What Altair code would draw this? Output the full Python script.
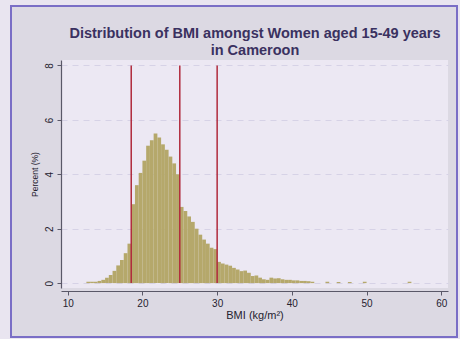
import altair as alt
import pandas as pd

# ---- data ----
BIN_WIDTH = 0.5
bin_start = [12.5, 13.0, 13.5, 14.0, 14.5, 15.0, 15.5, 16.0, 16.5, 17.0, 17.5, 18.0,
             18.5, 19.0, 19.5, 20.0, 20.5, 21.0, 21.5, 22.0, 22.5, 23.0, 23.5, 24.0, 24.5,
             25.0, 25.5, 26.0, 26.5, 27.0, 27.5, 28.0, 28.5, 29.0, 29.5,
             30.0, 30.5, 31.0, 31.5, 32.0, 32.5, 33.0, 33.5, 34.0, 34.5, 35.0, 35.5,
             36.0, 36.5, 37.0, 37.5, 38.0, 38.5, 39.0, 39.5, 40.0, 40.5, 41.0, 41.5,
             42.0, 42.5, 44.5, 46.0, 47.5, 49.5, 55.5]
percent = [0.05, 0.05, 0.05, 0.08, 0.12, 0.2, 0.3, 0.45, 0.65, 0.85, 1.1, 1.45,
           2.9, 3.6, 4.05, 4.5, 5.05, 5.25, 5.5, 5.35, 5.1, 4.9, 4.65, 4.4, 4.0,
           2.8, 2.65, 2.45, 2.25, 2.0, 1.78, 1.6, 1.45, 1.3, 1.25,
           0.78, 0.72, 0.68, 0.64, 0.56, 0.5, 0.44, 0.46, 0.38, 0.26, 0.28, 0.2,
           0.14, 0.12, 0.2, 0.17, 0.18, 0.14, 0.12, 0.12, 0.1, 0.1, 0.08, 0.08,
           0.07, 0.05, 0.05, 0.04, 0.04, 0.05, 0.05]
cutoffs = [18.5, 25, 30]
x_ticks = [10, 20, 30, 40, 50, 60]
y_ticks = [0, 2, 4, 6, 8]
title_lines = ["Distribution of BMI amongst Women aged 15-49 years", "in Cameroon"]

# ---- styles ----
FONT = "Liberation Sans"
OUTER = "#e9e5f0"
PANEL = "#dcd9e3"
PLOTBG = "#ece8f3"
BORDER = "#7a6ec6"
BAR = "#b5a86b"
RED = "#b02a3c"
TEXT = "#25222f"

W, H = 387, 228

hist = pd.DataFrame({"start": bin_start, "pct": percent})
hist["end"] = hist["start"] + BIN_WIDTH
cuts = pd.DataFrame({"cut": cutoffs})
one = pd.DataFrame({"k": [0]})

xscale = alt.Scale(domain=[9.1, 60.9], nice=False, zero=False)
yscale = alt.Scale(domain=[-0.18, 8.2], nice=False, zero=False)

outer = alt.Chart(one).mark_rect(fill=None, stroke=OUTER, strokeWidth=20).encode(
    x=alt.value(-61), x2=alt.value(407), y=alt.value(-65), y2=alt.value(288))
border = alt.Chart(one).mark_rect(fill=None, stroke=BORDER, strokeWidth=2).encode(
    x=alt.value(-50), x2=alt.value(396), y=alt.value(-54), y2=alt.value(277))

title = alt.Chart(one).mark_text(
    text=title_lines, font=FONT, fontSize=14.5, fontWeight="bold", color="#3a3160",
    align="center", baseline="middle", lineHeight=17,
).encode(x=alt.value(W / 2 + 0.5), y=alt.value(-26))

bars = alt.Chart(hist).mark_rect(color=BAR).encode(
    x=alt.X("start:Q", scale=xscale,
            axis=alt.Axis(values=x_ticks, title="BMI (kg/m²)", grid=False, offset=3,
                          tickSize=4, labelPadding=3, titlePadding=1, titleFontSize=11)),
    x2="end:Q",
    y=alt.Y("pct:Q", scale=yscale,
            axis=alt.Axis(values=y_ticks, title="Percent (%)", grid=True, labelAngle=270,
                          tickSize=4, labelPadding=3, titlePadding=5, titleFontSize=8.5,
                          gridDash=[6, 5], gridColor="#d6d2e6", gridWidth=1)),
    y2=alt.datum(0),
)

rules = alt.Chart(cuts).mark_rule(color=RED, strokeWidth=1.5).encode(
    x=alt.X("cut:Q", scale=xscale),
    y=alt.datum(0),
    y2=alt.datum(8),
)

chart = alt.layer(bars, rules, border, outer, title).properties(
    width=W, height=H,
    background=PANEL,
    padding={"left": 61, "top": 60, "right": 12, "bottom": 51},
    autosize=alt.AutoSizeParams(type="none"),
).configure_view(
    fill=PLOTBG, stroke=None
).configure_axis(
    labelFont=FONT, titleFont=FONT, labelFontSize=10,
    labelColor=TEXT, titleColor=TEXT, titleFontWeight="normal",
    domainColor="#5a5868", tickColor="#5a5868", domainWidth=1.2,
)

chart.save("out.html", embed_options={"renderer": "svg", "actions": False})
